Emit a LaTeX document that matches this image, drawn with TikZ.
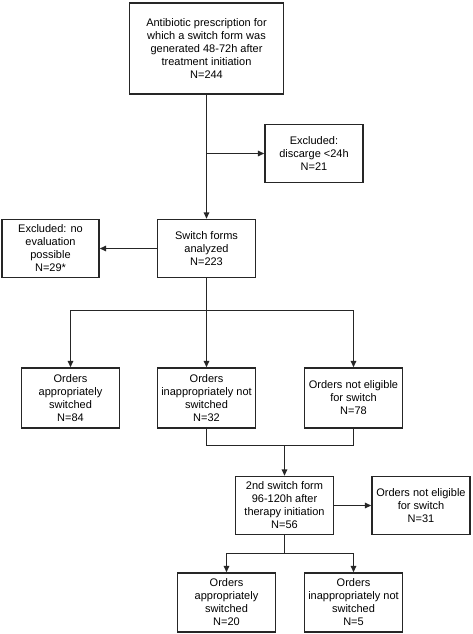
\documentclass[tikz,border=0pt]{standalone}
\usepackage{fontspec}
\setmainfont{Liberation Sans}
\usetikzlibrary{arrows.meta}
\begin{document}
\begin{tikzpicture}[x=1pt,y=-1pt,
  box/.style={draw=black!85,line width=1.4pt,align=center,inner sep=1pt,
    minimum width=98pt,minimum height=59pt,font=\fontsize{11}{13}\selectfont},
  conn/.style={draw=black!85,line width=1.4pt},
  arr/.style={conn,-{Triangle[length=6.5pt,width=5.5pt]}}]
\useasboundingbox[fill=white] (0,0) rectangle (472,634);
\node[box,minimum width=154pt,minimum height=91pt] (b1) at (206.5,48.5)
  {Antibiotic prescription for\\which a switch form was\\generated 48-72h after\\treatment initiation\\N=244};
\node[box,minimum height=58pt] (ex1) at (314,153.5) {Excluded:\\discarge <24h\\N=21};
\node[box,minimum height=58pt] (sw) at (206.5,248.5) {Switch forms\\analyzed\\N=223};
\node[box,minimum width=97pt,minimum height=58pt] (ex2) at (50.5,248.5) {Excluded: no\\evaluation\\possible\\N=29*};
\node[box,minimum height=60pt] (oa) at (70.5,398) {Orders\\appropriately\\switched\\N=84};
\node[box,minimum height=60pt] (oi) at (206.5,398) {Orders\\inappropriately not\\switched\\N=32};
\node[box,minimum height=60pt] (on) at (353.5,398) {Orders not eligible\\for switch\\N=78};
\node[box,minimum height=58pt] (s2) at (284.5,505.5) {2nd switch form\\96-120h after\\therapy initiation\\N=56};
\node[box,minimum height=58pt] (on2) at (421,505.5) {Orders not eligible\\for switch\\N=31};
\node[box] (oa2) at (226.5,602.5) {Orders\\appropriately\\switched\\N=20};
\node[box] (oi2) at (353.5,602.5) {Orders\\inappropriately not\\switched\\N=5};
\coordinate (t1) at (206.5,153.5);
\coordinate (j1) at (206.5,310.5);
\coordinate (j2) at (284.5,445.5);
\coordinate (j3) at (284.5,553.5);
% connectors
\draw[arr] (b1.south) -- (sw.north);
\draw[arr] (t1) -- (ex1.west);
\draw[arr] (sw.west) -- (ex2.east);
\draw[conn] (sw.south) -- (j1);
\draw[arr] (j1) -| (oa.north);
\draw[arr] (j1) -| (on.north);
\draw[arr] (j1) -- (oi.north);
\draw[conn] (oi.south) |- (j2) -| (on.south);
\draw[arr] (j2) -- (s2.north);
\draw[arr] (s2.east) -- (on2.west);
\draw[conn] (s2.south) -- (j3);
\draw[arr] (j3) -| (oa2.north);
\draw[arr] (j3) -| (oi2.north);
\end{tikzpicture}
\end{document}
